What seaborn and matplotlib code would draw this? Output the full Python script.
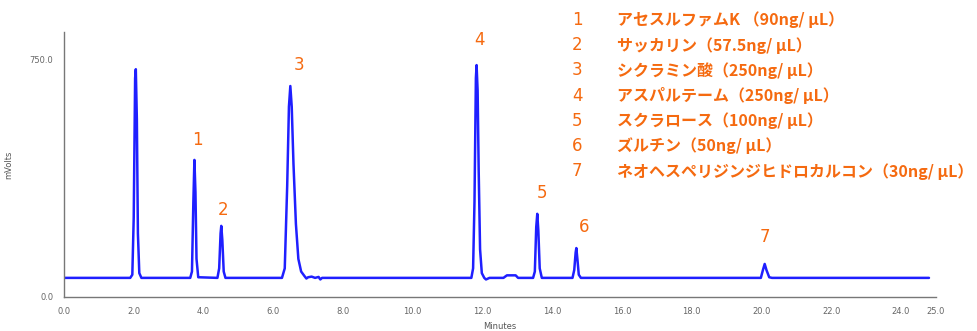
import numpy as np
import pandas as pd
import seaborn as sns
import matplotlib.pyplot as plt
from matplotlib.ticker import MultipleLocator, FormatStrFormatter

# chromatogram trace (minutes, mVolts)
time_min = [0.0, 1.90, 1.96, 2.00, 2.04, 2.06, 2.09, 2.12, 2.16, 2.22,
            3.62, 3.67, 3.71, 3.74, 3.77, 3.80, 3.85,
            4.40, 4.45, 4.49, 4.51, 4.54, 4.58, 4.63,
            6.25, 6.33, 6.40, 6.45, 6.49, 6.53, 6.58, 6.65, 6.72, 6.80, 6.90, 6.95,
            7.00, 7.10, 7.20, 7.30, 7.35, 7.40,
            11.68, 11.73, 11.77, 11.81, 11.83, 11.86, 11.89, 11.93, 11.98, 12.05, 12.10, 12.20,
            12.60, 12.70, 12.95, 13.02,
            13.45, 13.50, 13.54, 13.57, 13.60, 13.64, 13.70,
            14.58, 14.63, 14.67, 14.69, 14.72, 14.76, 14.82,
            19.98, 20.04, 20.09, 20.14, 20.22, 20.30, 24.80]
signal_mv = [60, 60, 70, 250, 690, 718, 560, 200, 75, 60,
             60, 80, 300, 432, 330, 120, 62,
             60, 90, 200, 224, 180, 80, 60,
             60, 90, 350, 600, 665, 600, 420, 230, 120, 80, 65, 58,
             62, 64, 60, 63, 55, 60,
             60, 90, 300, 690, 731, 650, 400, 150, 75, 60, 55, 60,
             60, 68, 68, 60,
             60, 80, 220, 262, 210, 90, 60,
             60, 85, 140, 154, 120, 70, 60,
             60, 85, 104, 85, 62, 60, 60]

# peak numbers and where they sit
peak_ids = ['1', '2', '3', '4', '5', '6', '7']
peak_label_x = [3.83, 4.57, 6.74, 11.9, 13.7, 14.9, 20.1]
peak_label_y = [495, 274, 731, 810, 328, 221, 189]

compounds = ['アセスルファムK （90ng/ μL）',
             'サッカリン（57.5ng/ μL）',
             'シクラミン酸（250ng/ μL）',
             'アスパルテーム（250ng/ μL）',
             'スクラロース（100ng/ μL）',
             'ズルチン（50ng/ μL）',
             'ネオヘスペリジンジヒドロカルコン（30ng/ μL）']

orange = '#F56A10'
trace = pd.DataFrame({'Minutes': time_min, 'mVolts': signal_mv})

sns.set_style('white')
plt.rcParams['font.family'] = ['DejaVu Sans', 'Noto Sans CJK JP']

fig = plt.figure(figsize=(9.78, 3.31), dpi=100)
ax = fig.add_axes([0.0654, 0.103, 0.8916, 0.80])

sns.lineplot(data=trace, x='Minutes', y='mVolts', sort=False, color='#1F1FFF',
             linewidth=1.8, ax=ax)

ax.set_xlim(0, 25.0)
ax.set_ylim(0, 835)
ax.set_yticks([0, 750])
ax.yaxis.set_major_formatter(FormatStrFormatter('%.1f'))
ax.set_xticks(list(range(0, 25, 2)) + [25])
ax.xaxis.set_major_formatter(FormatStrFormatter('%.1f'))
ax.xaxis.set_minor_locator(MultipleLocator(1))

for side in ['top', 'right']:
    ax.spines[side].set_visible(False)
for side in ['left', 'bottom']:
    ax.spines[side].set_color('#777777')
    ax.spines[side].set_linewidth(1.0)

ax.tick_params(axis='both', which='both', direction='out', colors='#777777',
               labelcolor='#666666', labelsize=6, length=4, width=0.8)

ax.set_xlabel('Minutes', fontsize=6, color='#555555', labelpad=4)
ax.set_ylabel('mVolts', fontsize=6, color='#555555', labelpad=12)

for pid, px, py in zip(peak_ids, peak_label_x, peak_label_y):
    ax.text(px, py, pid, color=orange, fontsize=12, ha='center', va='center')

# compound list in the upper right
for i, (pid, name) in enumerate(zip(peak_ids, compounds)):
    ypix = 20 + i * 25.2
    fig.text(572 / 978, 1 - ypix / 331, pid, color=orange, fontsize=12,
             ha='left', va='center')
    fig.text(617 / 978, 1 - ypix / 331, name, color=orange, fontsize=11.5,
             fontweight='bold', ha='left', va='center',
             family=['Noto Sans CJK JP', 'DejaVu Sans'])

fig.savefig('out.png', dpi=100)
